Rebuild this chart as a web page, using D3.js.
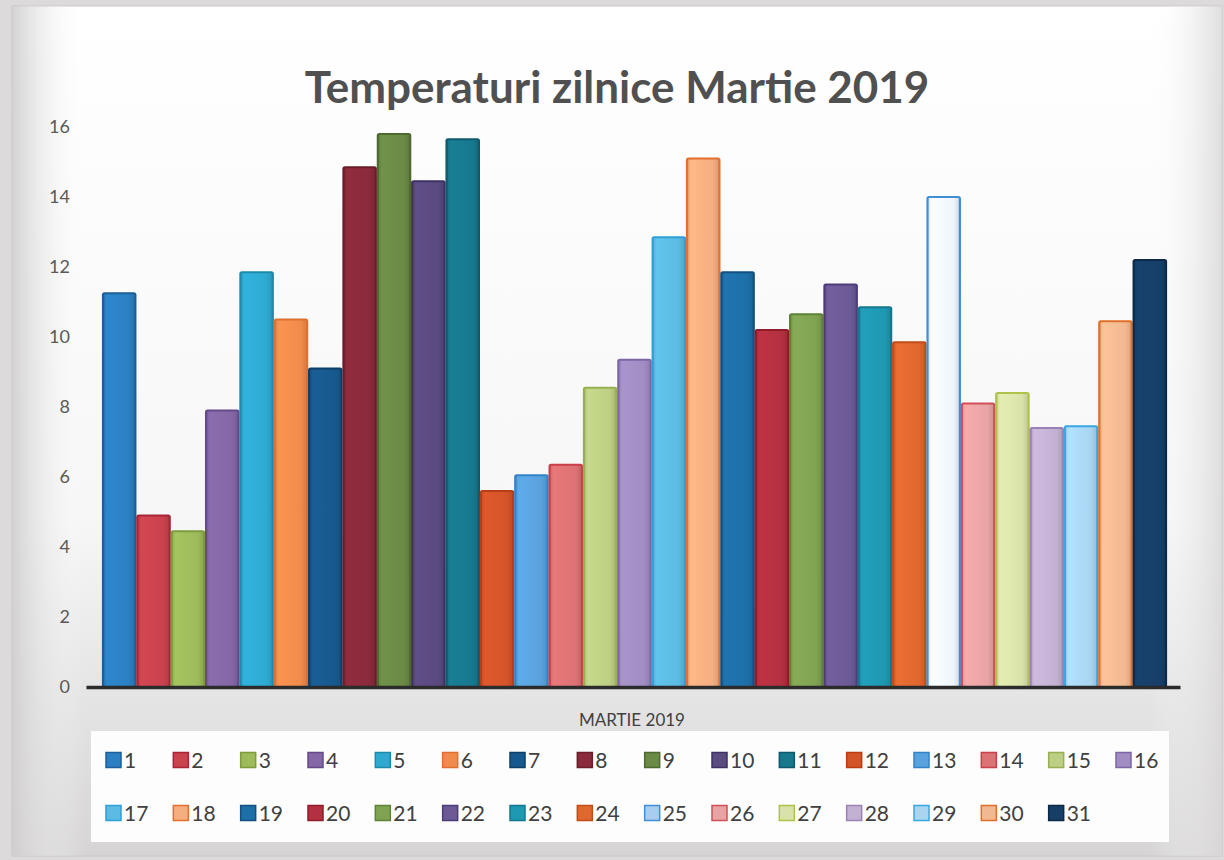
<!DOCTYPE html>
<html>
<head>
<meta charset="utf-8">
<script src="https://cdn.jsdelivr.net/npm/d3@7"></script>
<style>
  html, body { margin: 0; padding: 0; background: #d9d9d9; }
  svg { display: block; }
</style>
</head>
<body>
<svg id="chart" width="1224" height="860"></svg>
<script>
// ---- data ----
const title = "Temperaturi zilnice Martie 2019";
const axisTitle = "MARTIE 2019";
const days = d3.range(1, 32).map(String);
const temps = [11.25, 4.9, 4.45, 7.9, 11.85, 10.5, 9.1, 14.85, 15.8, 14.45, 15.65,
               5.6, 6.05, 6.35, 8.55, 9.35, 12.85, 15.1, 11.85, 10.2, 10.65, 11.5,
               10.85, 9.85, 14.0, 8.1, 8.4, 7.4, 7.45, 10.45, 12.2];
const yTicks = [0, 2, 4, 6, 8, 10, 12, 14, 16];
const fills = ["#2b80c2", "#c9424e", "#9dbb5b", "#8467a6", "#2eaad2", "#f08b4c",
               "#17598e", "#8a2a3c", "#6a8a45", "#5a4a80", "#17788e", "#d4542a",
               "#5aa2de", "#dd7274", "#bccf84", "#a08dc2", "#5cbbe2", "#f4ae80",
               "#1d6fa8", "#b43040", "#80a352", "#6c5a96", "#1f98b2", "#e0682f",
               "#a9cdee", "#e9a3a4", "#d9e2a9", "#c3b1d3", "#a9d5f1", "#f1b991",
               "#163f68"];
const strokes = ["#1d5f98", "#a82436", "#7e9c3c", "#654a88", "#1c8aaa", "#e0702e",
                 "#0e3f68", "#6a1c2a", "#4e6a30", "#3e3062", "#0e5a6c", "#b83e16",
                 "#3482c8", "#c8404a", "#96b052", "#7e66a6", "#2ea0d6", "#e27030",
                 "#134f80", "#8e1c2a", "#5e8236", "#4c3c78", "#127890", "#c04c18",
                 "#3f8fd8", "#d0505a", "#b0c24a", "#9a82b6", "#38a8de", "#e0702a",
                 "#0c2a48"];

// ---- layout ----
const W = 1224, H = 860;
const svg = d3.select("#chart");
const defs = svg.append("defs");

const bg = defs.append("linearGradient").attr("id", "bg")
  .attr("x1", 0).attr("y1", 0).attr("x2", 0).attr("y2", 1);
bg.append("stop").attr("offset", "0%").attr("stop-color", "#ffffff");
bg.append("stop").attr("offset", "60%").attr("stop-color", "#f7f7f7");
bg.append("stop").attr("offset", "100%").attr("stop-color", "#d6d4d4");
const bgSide = defs.append("linearGradient").attr("id", "bgSide")
  .attr("x1", 0).attr("y1", 0).attr("x2", 1).attr("y2", 0);
bgSide.append("stop").attr("offset", "0%").attr("stop-color", "#cfcdcd").attr("stop-opacity", 0.9);
bgSide.append("stop").attr("offset", "6%").attr("stop-color", "#ffffff").attr("stop-opacity", 0);
bgSide.append("stop").attr("offset", "94%").attr("stop-color", "#ffffff").attr("stop-opacity", 0);
bgSide.append("stop").attr("offset", "100%").attr("stop-color", "#d8d6d6").attr("stop-opacity", 0.8);

svg.append("rect").attr("x", 0).attr("y", 0).attr("width", W).attr("height", H).attr("fill", "#dcdada");
svg.append("rect").attr("x", 12).attr("y", 6).attr("width", W - 14).attr("height", H - 10)
  .attr("fill", "url(#bg)").attr("stroke", "#c8c8c8").attr("stroke-width", 1);
svg.append("rect").attr("x", 12).attr("y", 6).attr("width", W - 14).attr("height", H - 10)
  .attr("fill", "url(#bgSide)");

// scales
const x = d3.scaleBand().domain(days).range([102, 1167]).padding(0);
const y = d3.scaleLinear().domain([0, 16]).range([687, 127]);

// title
const t = svg.append("text")
  .attr("x", 617).attr("y", 103)
  .attr("text-anchor", "middle")
  .attr("font-family", "Lato, 'Open Sans', sans-serif")
  .attr("font-weight", "bold")
  .attr("font-size", 36)
  .attr("fill", "#505050")
  .text(title);
const tl = t.node().getComputedTextLength();
if (tl > 0) t.attr("font-size", 36 * 625 / tl);

// bar gradients (day 25 is drawn as a very pale, almost white bar)
fills.forEach((c, i) => {
  const g = defs.append("linearGradient").attr("id", "bar" + i)
    .attr("x1", 0).attr("y1", 0).attr("x2", 1).attr("y2", 0);
  const base = i === 24 ? d3.color(d3.interpolateRgb(c, "#ffffff")(0.8)) : d3.color(c);
  g.append("stop").attr("offset", "0%").attr("stop-color", base.darker(0.25));
  g.append("stop").attr("offset", "12%").attr("stop-color", base.brighter(0.15));
  g.append("stop").attr("offset", "80%").attr("stop-color", base);
  g.append("stop").attr("offset", "100%").attr("stop-color", base.darker(0.35));
});

// bars
svg.append("g").selectAll("rect").data(days).join("rect")
  .attr("x", d => x(d) + 1)
  .attr("y", (d, i) => y(temps[i]))
  .attr("width", x.bandwidth() - 2)
  .attr("height", (d, i) => y(0) - y(temps[i]))
  .attr("fill", (d, i) => `url(#bar${i})`)
  .attr("stroke", (d, i) => strokes[i])
  .attr("stroke-width", 2.2)
  .attr("rx", 1.5);

// y axis labels
const yAxis = d3.axisLeft(y).tickValues(yTicks).tickSize(0).tickPadding(0).tickFormat(d3.format("d"));
const ya = svg.append("g").attr("transform", "translate(70,0)").call(yAxis);
ya.select(".domain").remove();
ya.selectAll("text")
  .attr("font-family", "Lato, 'Open Sans', sans-serif")
  .attr("font-size", 18)
  .attr("fill", "#595959");

// x axis line
const xa = svg.append("g").attr("transform", `translate(0,${y(0)})`)
  .call(d3.axisBottom(d3.scaleLinear().domain([0, 1]).range([86, 1180])).ticks(0).tickSize(0));
xa.select(".domain").attr("stroke", "#2b2b2b").attr("stroke-width", 3.5);
xa.selectAll("text").remove();

// axis title
svg.append("text")
  .attr("x", 632).attr("y", 726)
  .attr("text-anchor", "middle")
  .attr("font-family", "Lato, 'Open Sans', sans-serif")
  .attr("font-size", 17)
  .attr("fill", "#404040")
  .text(axisTitle);

// legend
svg.append("rect").attr("x", 91).attr("y", 731).attr("width", 1078).attr("height", 111)
  .attr("fill", "#fdfdfd");
const lx = d3.scalePoint().domain(d3.range(16)).range([106, 1116]);
const ly = [760, 813];
const leg = svg.append("g").selectAll("g").data(days).join("g")
  .attr("transform", (d, i) => `translate(${lx(i % 16)},${ly[Math.floor(i / 16)]})`);
leg.append("rect")
  .attr("x", 0).attr("y", -7.5).attr("width", 15).attr("height", 15)
  .attr("fill", (d, i) => fills[i])
  .attr("stroke", (d, i) => strokes[i])
  .attr("stroke-width", 1.5);
leg.append("text")
  .attr("x", 18).attr("y", 0).attr("dy", "0.36em")
  .attr("font-family", "Lato, 'Open Sans', sans-serif")
  .attr("font-size", 21)
  .attr("fill", "#404040")
  .text(d => d);
</script>
</body>
</html>
